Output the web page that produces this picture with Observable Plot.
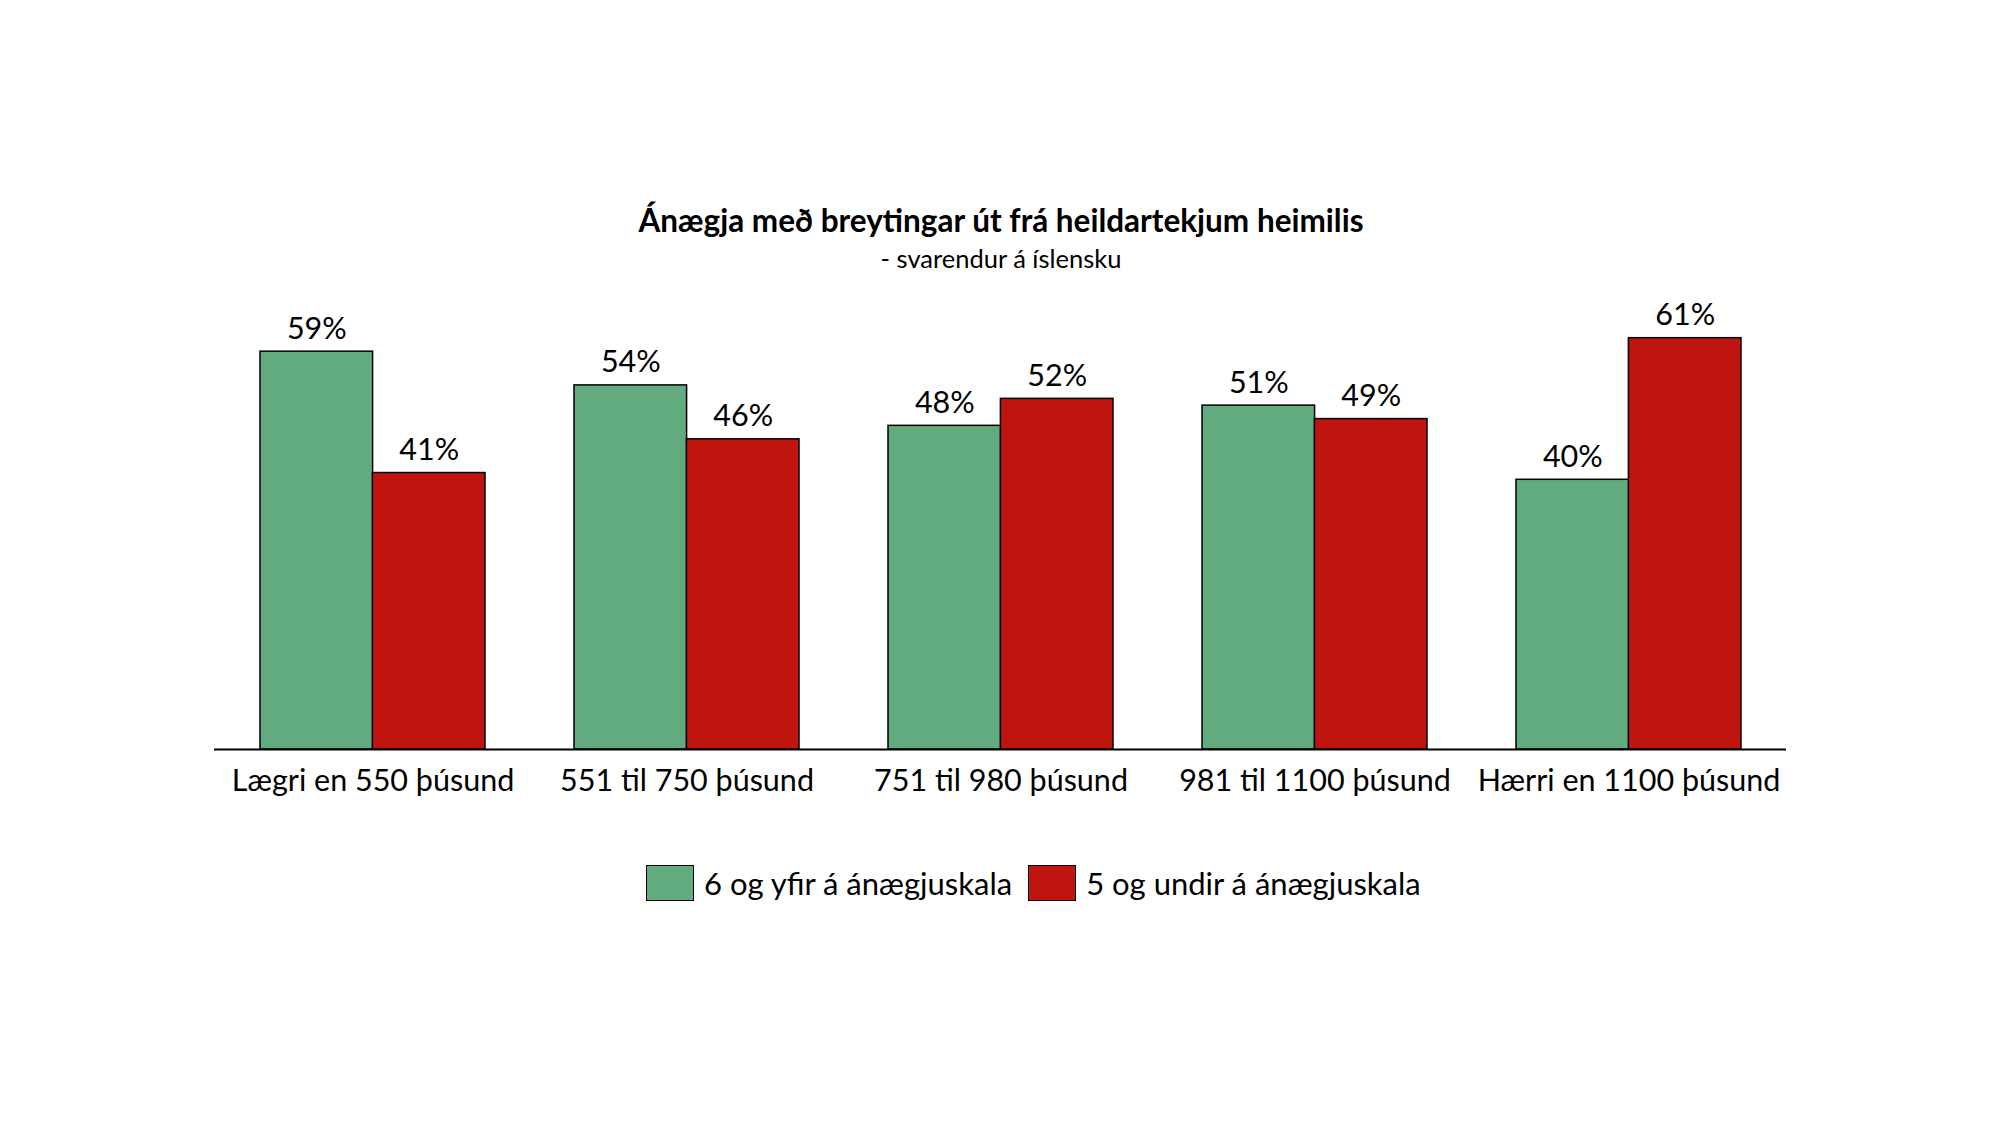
<!DOCTYPE html>
<html>
<head>
<meta charset="utf-8">
<script src="https://cdn.jsdelivr.net/npm/d3@7"></script>
<script src="https://cdn.jsdelivr.net/npm/@observablehq/plot@0.6"></script>
<style>
  html, body { margin: 0; padding: 0; background: #fff; }
  body { width: 2000px; height: 1125px; position: relative; overflow: hidden; font-family: Lato, "Open Sans", sans-serif; color: #000; }
  #title { position: absolute; left: 0; width: 2002px; top: 201px; text-align: center; font-weight: bold; font-size: 31.5px; line-height: 38px; }
  #subtitle { position: absolute; left: 0; width: 2002px; top: 243px; text-align: center; font-size: 25.5px; line-height: 30px; }
  #chart { position: absolute; left: 0; top: 240px; }
  #legend { position: absolute; left: 646px; top: 864px; display: flex; align-items: center; font-size: 31px; }
  .sw { width: 46px; height: 34px; border: 1px solid #000; margin-right: 10px; }
  .item { display: flex; align-items: center; margin-right: 16px; }
</style>
</head>
<body>
<div id="title">Ánægja með breytingar út frá heildartekjum heimilis</div>
<div id="subtitle">- svarendur á íslensku</div>
<div id="chart"></div>
<div id="legend"></div>
<script>
const categories = ["Lægri en 550 þúsund", "551 til 750 þúsund", "751 til 980 þúsund", "981 til 1100 þúsund", "Hærri en 1100 þúsund"];
const seriesNames = ["6 og yfir á ánægjuskala", "5 og undir á ánægjuskala"];
const satisfied = [59, 54, 48, 51, 40];
const dissatisfied = [41, 46, 52, 49, 61];
const colors = ["#62ab7e", "#c0150f"];

const greenData = categories.map((c, i) => ({category: c, value: satisfied[i]}));
const redData = categories.map((c, i) => ({category: c, value: dissatisfied[i]}));

const fontFamily = "Lato, 'Open Sans', sans-serif";
const half = 112.4;

const plot = Plot.plot({
  width: 2000,
  height: 580,
  marginTop: 37,
  marginBottom: 71,
  marginLeft: 214,
  marginRight: 214,
  style: {fontFamily, fontSize: "30px", color: "#000", background: "transparent", overflow: "visible"},
  x: {type: "band", domain: categories, paddingInner: 0.285, paddingOuter: 0.1425, label: null},
  y: {domain: [0, 70], axis: null},
  marks: [
    Plot.barY(greenData, {x: "category", y: "value", fill: colors[0], stroke: "#000", strokeWidth: 1.5, insetRight: half}),
    Plot.barY(redData, {x: "category", y: "value", fill: colors[1], stroke: "#000", strokeWidth: 1.5, insetLeft: half}),
    Plot.text(greenData, {x: "category", y: "value", text: d => d.value + "%", dx: -half / 2, dy: -13, lineAnchor: "bottom", fontSize: 30.5, fill: "#000"}),
    Plot.text(redData, {x: "category", y: "value", text: d => d.value + "%", dx: half / 2, dy: -13, lineAnchor: "bottom", fontSize: 30.5, fill: "#000"}),
    Plot.ruleY([0], {stroke: "#000", strokeWidth: 2}),
    Plot.axisX({tickSize: 0, tickPadding: 20, fontSize: 30.5, label: null, fill: "#000"})
  ]
});
document.getElementById("chart").appendChild(plot);

const legend = document.getElementById("legend");
seriesNames.forEach((name, i) => {
  const item = document.createElement("div");
  item.className = "item";
  const sw = document.createElement("div");
  sw.className = "sw";
  sw.style.background = colors[i];
  const label = document.createElement("span");
  label.textContent = name;
  item.appendChild(sw);
  item.appendChild(label);
  legend.appendChild(item);
});
</script>
</body>
</html>
